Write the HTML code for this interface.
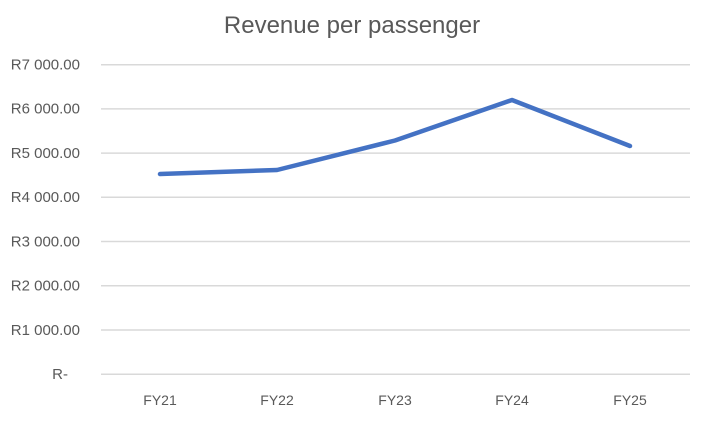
<!DOCTYPE html>
<html><head><style>body{margin:0;background:#fff}</style></head><body>
<svg width="704" height="420" xmlns="http://www.w3.org/2000/svg" font-family="Liberation Sans, sans-serif">
<rect width="704" height="420" fill="#fff"/>
<text x="352" y="33" text-anchor="middle" font-size="24" fill="#595959">Revenue per passenger</text>
<g stroke="#d9d9d9" stroke-width="1.5">
<line x1="101" x2="690" y1="64.7" y2="64.7"/>
<line x1="101" x2="690" y1="108.9" y2="108.9"/>
<line x1="101" x2="690" y1="153.1" y2="153.1"/>
<line x1="101" x2="690" y1="197.3" y2="197.3"/>
<line x1="101" x2="690" y1="241.5" y2="241.5"/>
<line x1="101" x2="690" y1="285.7" y2="285.7"/>
<line x1="101" x2="690" y1="330" y2="330"/>
<line x1="101" x2="690" y1="374.3" y2="374.3"/>
</g>
<g font-size="15" fill="#595959" text-anchor="end">
<text x="80" y="69.5">R7 000.00</text>
<text x="80" y="113.7">R6 000.00</text>
<text x="80" y="157.9">R5 000.00</text>
<text x="80" y="202.1">R4 000.00</text>
<text x="80" y="246.3">R3 000.00</text>
<text x="80" y="290.5">R2 000.00</text>
<text x="80" y="334.8">R1 000.00</text>
<text x="68" y="379.1">R-</text>
</g>
<g font-size="14" fill="#595959" text-anchor="middle">
<text x="160" y="405">FY21</text>
<text x="277" y="405">FY22</text>
<text x="395" y="405">FY23</text>
<text x="512" y="405">FY24</text>
<text x="630" y="405">FY25</text>
</g>
<polyline points="160,174 277,170 395,140.5 512,100 630,146" fill="none" stroke="#4472c4" stroke-width="4.5" stroke-linejoin="round" stroke-linecap="round"/>
</svg>
</body></html>
